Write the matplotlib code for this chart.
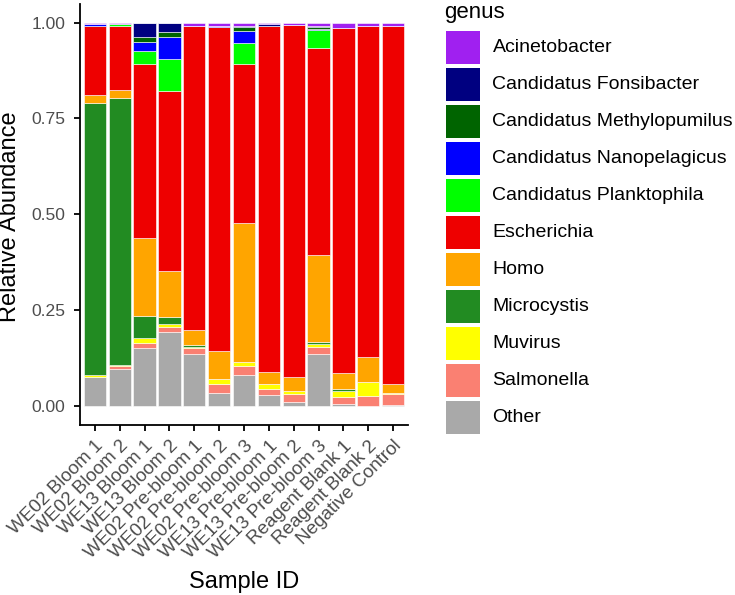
import matplotlib
matplotlib.use("Agg")
import matplotlib.pyplot as plt
from matplotlib.patches import Rectangle
import numpy as np

plt.rcParams['font.family'] = ['Liberation Sans', 'DejaVu Sans']

samples = ["WE02 Bloom 1", "WE02 Bloom 2", "WE13 Bloom 1", "WE13 Bloom 2",
           "WE02 Pre-bloom 1", "WE02 Pre-bloom 2", "WE02 Pre-bloom 3",
           "WE13 Pre-bloom 1", "WE13 Pre-bloom 2", "WE13 Pre-bloom 3",
           "Reagent Blank 1", "Reagent Blank 2", "Negative Control"]

# legend order (top of stack first)
genera = ["Acinetobacter", "Candidatus Fonsibacter", "Candidatus Methylopumilus",
          "Candidatus Nanopelagicus", "Candidatus Planktophila", "Escherichia",
          "Homo", "Microcystis", "Muvirus", "Salmonella", "Other"]
colors = ["#A020F0", "#000080", "#006400", "#0000FF", "#00FF00", "#EE0000",
          "#FFA500", "#228B22", "#FFFF00", "#FA8072", "#A9A9A9"]

acinetobacter  = [0.004, 0.003, 0.001, 0.001, 0.009, 0.008, 0.008, 0.004, 0.006, 0.009, 0.013, 0.008, 0.008]
fonsibacter    = [0.000, 0.000, 0.037, 0.023, 0.000, 0.000, 0.004, 0.005, 0.000, 0.003, 0.000, 0.000, 0.000]
methylopumilus = [0.000, 0.000, 0.012, 0.014, 0.000, 0.000, 0.011, 0.000, 0.000, 0.004, 0.000, 0.000, 0.000]
nanopelagicus  = [0.004, 0.000, 0.025, 0.058, 0.000, 0.004, 0.031, 0.000, 0.000, 0.004, 0.000, 0.000, 0.000]
planktophila   = [0.000, 0.005, 0.034, 0.082, 0.000, 0.000, 0.054, 0.000, 0.000, 0.047, 0.000, 0.000, 0.000]
escherichia    = [0.181, 0.168, 0.452, 0.470, 0.794, 0.845, 0.414, 0.904, 0.918, 0.540, 0.902, 0.866, 0.934]
homo           = [0.020, 0.020, 0.204, 0.121, 0.039, 0.074, 0.365, 0.029, 0.037, 0.227, 0.042, 0.063, 0.024]
microcystis    = [0.711, 0.698, 0.059, 0.018, 0.004, 0.000, 0.000, 0.000, 0.000, 0.005, 0.004, 0.000, 0.000]
muvirus        = [0.004, 0.003, 0.013, 0.008, 0.004, 0.011, 0.009, 0.013, 0.009, 0.007, 0.017, 0.038, 0.004]
salmonella     = [0.001, 0.006, 0.012, 0.012, 0.016, 0.026, 0.025, 0.017, 0.021, 0.019, 0.018, 0.025, 0.027]
other          = [0.075, 0.097, 0.151, 0.193, 0.134, 0.032, 0.079, 0.028, 0.009, 0.135, 0.004, 0.000, 0.003]

series = [acinetobacter, fonsibacter, methylopumilus, nanopelagicus, planktophila,
          escherichia, homo, microcystis, muvirus, salmonella, other]

W, H = 735, 595
fig = plt.figure(figsize=(W / 100, H / 100), dpi=100)

def fx(px):
    return px / W

def fy(py):
    return 1 - py / H

ax = fig.add_axes([fx(80), fy(424.9), fx(408) - fx(80), fy(3.5) - fy(424.9)])

x = np.arange(len(samples))
bottom = np.zeros(len(samples))
for name, vals, col in reversed(list(zip(genera, series, colors))):
    v = np.array(vals)
    ax.bar(x, v, bottom=bottom, width=0.9, color=col, edgecolor="white", linewidth=0.4)
    bottom += v

ax.set_xlim(-0.6, len(samples) - 0.4)
ax.set_ylim(-0.05, 1.05)
ax.set_yticks([0, 0.25, 0.5, 0.75, 1.0])
ax.set_yticklabels(["0.00", "0.25", "0.50", "0.75", "1.00"])
ax.set_xticks(x)
ax.set_xticklabels(samples, rotation=45, ha="right", va="top", rotation_mode="anchor")
for s in ["top", "right"]:
    ax.spines[s].set_visible(False)
for s in ["left", "bottom"]:
    ax.spines[s].set_linewidth(1.3)
ax.tick_params(axis="both", width=1.3, length=4.5, colors="black",
               labelcolor="#4D4D4D")
ax.tick_params(axis="y", pad=6, labelsize=12.6)
ax.tick_params(axis="x", pad=4.5, labelsize=13.6)

fig.text(fx(244), fy(588), "Sample ID", ha="center", va="baseline", fontsize=17)
fig.text(fx(10), fy(217), "Relative Abundance", ha="center", va="center",
         rotation=90, fontsize=17)

# legend
fig.text(fx(444), fy(2), "genus", ha="left", va="top", fontsize=16)
for i, (name, col) in enumerate(zip(genera, colors)):
    top = 30.7 + 37.0 * i
    fig.add_artist(Rectangle((fx(446), fy(top + 33)), fx(480) - fx(446),
                             fy(top) - fy(top + 33), facecolor=col,
                             edgecolor="none", transform=fig.transFigure))
    fig.text(fx(492.5), fy(top + 16.5), name, ha="left", va="center", fontsize=14)

fig.savefig("out.png", dpi=100)
